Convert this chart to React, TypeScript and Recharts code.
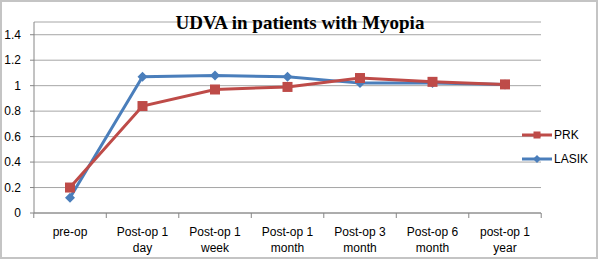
import React from 'react';
import { LineChart, Line, XAxis, YAxis, CartesianGrid, Legend } from 'recharts';

const stages = [
  ['pre-op', ''],
  ['Post-op 1', 'day'],
  ['Post-op 1', 'week'],
  ['Post-op 1', 'month'],
  ['Post-op 3', 'month'],
  ['Post-op 6', 'month'],
  ['post-op 1', 'year'],
];
const prk = [0.2, 0.84, 0.97, 0.99, 1.06, 1.03, 1.01];
const lasik = [0.12, 1.07, 1.08, 1.07, 1.02, 1.02, 1.01];
const yTicks = [0, 0.2, 0.4, 0.6, 0.8, 1, 1.2, 1.4];

const RED = '#BE4B48';
const BLUE = '#4A7EBB';
const FONT = '"Liberation Sans", Arial, sans-serif';

const data = stages.map((s, i) => ({ stage: s.join(' ').trim(), PRK: prk[i], LASIK: lasik[i] }));

const BAND = 507 / 7;

const SquareDot = (props: any) => {
  const { cx, cy, index } = props;
  if (cx == null || cy == null) return <g key={'s' + index} />;
  return <rect key={'s' + index} x={cx - 5} y={cy - 5} width={10} height={10} fill={RED} />;
};

const DiamondDot = (props: any) => {
  const { cx, cy, index } = props;
  if (cx == null || cy == null) return <g key={'d' + index} />;
  return (
    <polygon
      key={'d' + index}
      points={`${cx},${cy - 5} ${cx + 5},${cy} ${cx},${cy + 5} ${cx - 5},${cy}`}
      fill={BLUE}
    />
  );
};

const StageTick = (props: any) => {
  const { x, y, index } = props;
  const [l1, l2] = stages[index] || ['', ''];
  return (
    <g>
      <line x1={x - BAND / 2} x2={x - BAND / 2} y1={y} y2={y + 5} stroke="#868686" />
      {index === stages.length - 1 && (
        <line x1={x + BAND / 2} x2={x + BAND / 2} y1={y} y2={y + 5} stroke="#868686" />
      )}
      <text x={x} y={y + 23} textAnchor="middle" fontSize={12} fontFamily={FONT} fill="#000">
        {l1}
      </text>
      {l2 && (
        <text x={x} y={y + 39} textAnchor="middle" fontSize={12} fontFamily={FONT} fill="#000">
          {l2}
        </text>
      )}
    </g>
  );
};

const LegendBox = () => {
  const rows = [
    { name: 'PRK', color: RED, square: true },
    { name: 'LASIK', color: BLUE, square: false },
  ];
  return (
    <div>
      {rows.map((r) => (
        <div key={r.name} style={{ height: 24, display: 'flex', alignItems: 'center' }}>
          <svg width={30} height={12}>
            <line x1={0} x2={30} y1={6} y2={6} stroke={r.color} strokeWidth={3} />
            {r.square ? (
              <rect x={11.5} y={2.5} width={7} height={7} fill={r.color} />
            ) : (
              <polygon points="15,2 19,6 15,10 11,6" fill={r.color} />
            )}
          </svg>
          <span style={{ fontFamily: FONT, fontSize: 12, marginLeft: 2, color: '#000' }}>{r.name}</span>
        </div>
      ))}
    </div>
  );
};

export default function App() {
  return (
    <div style={{ position: 'absolute', left: 0, top: 0, width: 600, height: 260, background: '#fff' }}>
      <div
        style={{
          position: 'absolute',
          left: 0,
          top: 0,
          width: 598,
          height: 259,
          border: '2px solid #c4c4c4',
          boxSizing: 'border-box',
        }}
      />
      <div style={{ position: 'absolute', left: 0, top: 0 }}>
        <LineChart width={600} height={260} data={data} margin={{ top: 22, right: 59, bottom: 0, left: 0 }}>
          <CartesianGrid horizontal vertical={false} stroke="#a6a6a6" />
          <XAxis
            dataKey="stage"
            interval={0}
            padding={{ left: 36, right: 36 }}
            height={47}
            tickSize={0}
            tickMargin={0}
            tickLine={false}
            axisLine={{ stroke: '#868686' }}
            tick={<StageTick />}
          />
          <YAxis
            width={34}
            domain={[0, 1.5]}
            ticks={yTicks}
            interval={0}
            tickSize={4}
            tickMargin={9}
            axisLine={{ stroke: '#868686' }}
            tickLine={{ stroke: '#868686' }}
            tick={{ fontSize: 12, fontFamily: FONT, fill: '#000' }}
          />
          <Line
            dataKey="LASIK"
            stroke={BLUE}
            strokeWidth={3}
            dot={DiamondDot}
            activeDot={false}
            isAnimationActive={false}
          />
          <Line
            dataKey="PRK"
            stroke={RED}
            strokeWidth={3}
            dot={SquareDot}
            activeDot={false}
            isAnimationActive={false}
          />
          <Legend
            layout="vertical"
            align="center"
            verticalAlign="middle"
            content={<LegendBox />}
            wrapperStyle={{ left: 522, top: 123, width: 75 }}
          />
        </LineChart>
      </div>
      <div
        style={{
          position: 'absolute',
          left: 0,
          top: 13,
          width: 600,
          textAlign: 'center',
          fontFamily: '"Liberation Serif", "Times New Roman", serif',
          fontWeight: 'bold',
          fontSize: 19,
          lineHeight: '19px',
          color: '#000',
        }}
      >
        UDVA in patients with Myopia
      </div>
    </div>
  );
}
